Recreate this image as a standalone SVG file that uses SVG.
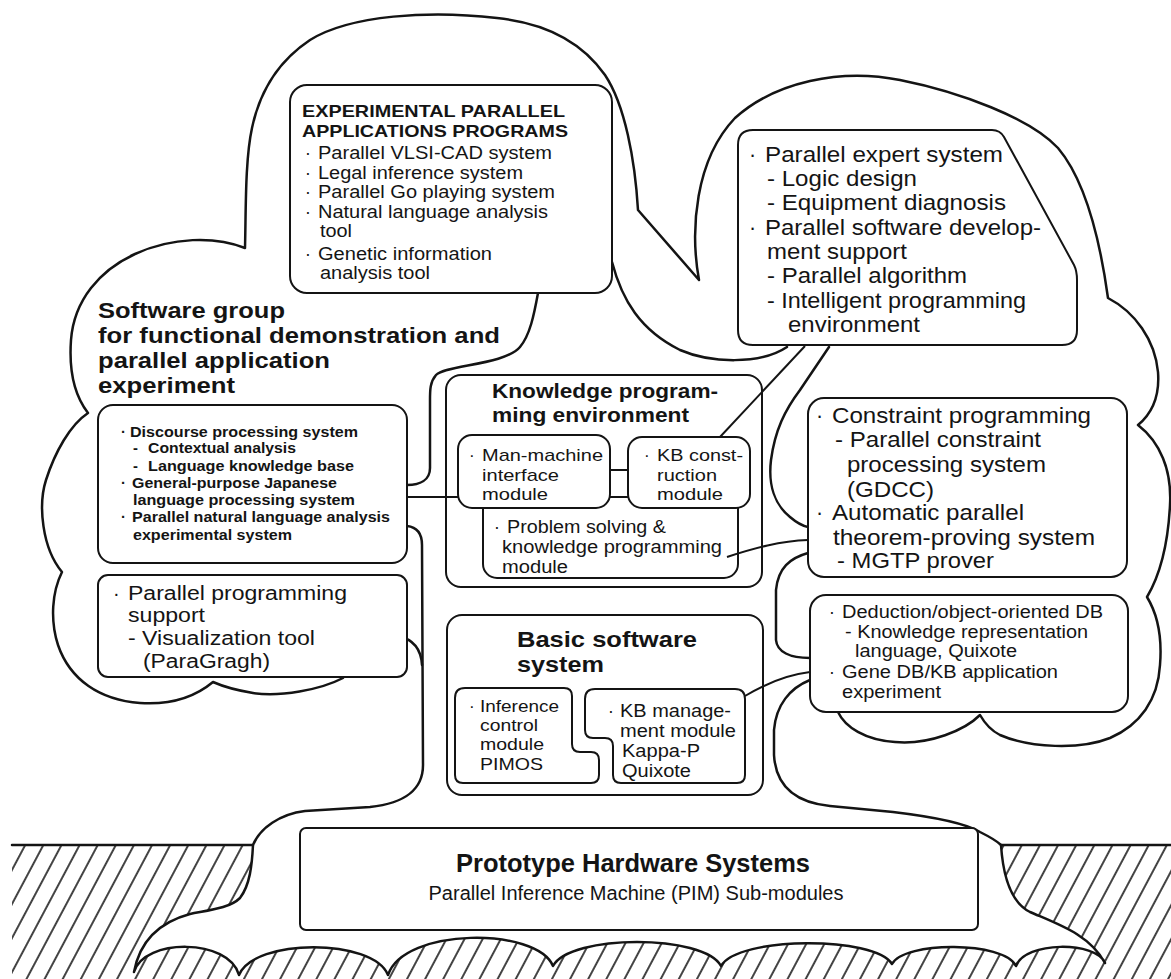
<svg xmlns="http://www.w3.org/2000/svg" width="1171" height="979" viewBox="0 0 1171 979">
<style>
text{font-family:"Liberation Sans",Arial,Helvetica,sans-serif;fill:#141414}
.b{font-weight:bold}
.box{fill:#fff;stroke:#141414;stroke-width:2}
.cl{fill:none;stroke:#141414;stroke-width:2.5;stroke-linejoin:round;stroke-linecap:round}
.cn{fill:none;stroke:#141414;stroke-width:2}
.t{font-size:22px;font-weight:bold}
.eh{font-size:16.5px;font-weight:bold}
.e{font-size:17.5px}
.x{font-size:21.5px}
.d{font-size:17.5px}
.ds{font-size:14.8px;font-weight:bold}
.pp{font-size:20px}
.kh{font-size:21px;font-weight:bold}
.m{font-size:17px}
.bs{font-size:22px;font-weight:bold}
</style>
<defs>
<pattern id="hatch" patternUnits="userSpaceOnUse" width="16" height="20" patternTransform="rotate(28)">
<line x1="3" y1="-5" x2="3" y2="25" stroke="#141414" stroke-width="1.6"/>
</pattern>
</defs>
<rect width="1171" height="979" fill="#fff"/>

<g id="ground">
<rect x="12" y="846" width="1159" height="133" fill="url(#hatch)"/>
<path d="M253,843 C252,865 250,885 240,898 C230,908 210,910 190,914 C160,922 140,940 134,972 C144,938 229,938 239,975 C254,938 373,938 388,975 C404,927 537,927 553,966 C570,934 704,934 721,966 C738,936 875,936 892,964 C904,941 1004,941 1016,966 C1025,941 1096,941 1105,963 C1090,935 1060,925 1030,912 C1010,902 1003,875 1001,845 L1001,843 Z" fill="#fff"/>
<line x1="12" y1="845" x2="253" y2="845" class="cl"/>
<line x1="1001" y1="845" x2="1171" y2="845" class="cl"/>
</g>

<g id="cloud">
<path class="cl" d="M343,678 C320,690 280,697 253,693 C235,690 222,686 213,682 C195,697 170,705 140,703 C100,700 70,680 58,645 C50,620 52,592 62,572 C42,548 38,505 46,480 C55,452 70,425 88,413 C74,395 69,368 71,340 C74,300 100,270 135,254 C172,237 215,236 245,248 C246,210 245,160 252,128 C260,90 280,60 310,40 C350,15 430,10 497,18 C545,23 582,42 605,75 C625,105 635,160 638,210 L699,280 C690,230 695,160 735,118 C775,82 840,68 900,80 C960,92 1030,118 1058,148 C1085,180 1100,240 1108,298 C1135,312 1155,340 1158,372 C1160,398 1150,415 1138,425 C1160,442 1172,470 1170,505 C1168,545 1160,575 1147,597 C1158,615 1162,640 1160,665 C1158,700 1140,725 1110,738 C1080,750 1030,748 1000,735 C990,730 984,722 980,715 C965,730 930,745 895,742 C865,740 845,727 838,712"/>
<path class="cl" d="M538,293 C534,315 530,335 520,347 C505,365 445,365 436,375 C430,382 430,390 430,400 L430,468 C430,480 420,485 407,485"/>
<path class="cl" d="M612,262 C622,300 640,330 680,350 C710,363 760,365 787,347"/>
<path class="cl" d="M829,347 L800,390 C785,410 775,430 771,460 C768,485 775,505 790,517 C797,523 803,526 808,527"/>
<path class="cl" d="M808,553 C790,558 778,568 776,590 L776,640 C777,652 790,658 810,658"/>
<path class="cl" d="M398,636 C412,639 421,647 422,665"/>
<path class="cl" d="M407,526 C416,527 422,532 422,545 L423,765 C423,790 405,803 370,807 L305,811 C280,814 260,828 253,845 C252,865 250,885 240,898 C230,908 210,910 190,914 C160,922 140,940 134,972 C144,938 229,938 239,975 C254,938 373,938 388,975 C404,927 537,927 553,966 C570,934 704,934 721,966 C738,936 875,936 892,964 C904,941 1004,941 1016,966 C1025,941 1096,941 1105,963 C1090,935 1060,925 1030,912 C1010,902 1003,875 1001,845 C998,842 992,838 980,832 C965,823 935,817 893,812 L830,806 C800,803 776,790 774,755 L774,730 C776,705 790,688 810,680"/>
</g>

<g id="title">
<text class="t" x="98" y="318" textLength="187" lengthAdjust="spacingAndGlyphs">Software group</text>
<text class="t" x="98" y="343" textLength="402" lengthAdjust="spacingAndGlyphs">for functional demonstration and</text>
<text class="t" x="98" y="368" textLength="232" lengthAdjust="spacingAndGlyphs">parallel application</text>
<text class="t" x="98" y="393" textLength="137" lengthAdjust="spacingAndGlyphs">experiment</text>
</g>

<g id="experimental">
<rect class="box" x="290" y="85" width="322" height="208" rx="17"/>
<text class="eh" x="302" y="117" textLength="263" lengthAdjust="spacingAndGlyphs">EXPERIMENTAL PARALLEL</text>
<text class="eh" x="302" y="137" textLength="266" lengthAdjust="spacingAndGlyphs">APPLICATIONS PROGRAMS</text>
<text class="e" x="305" y="159">·</text><text class="e" x="318" y="159" textLength="234" lengthAdjust="spacingAndGlyphs">Parallel VLSI-CAD system</text>
<text class="e" x="305" y="179">·</text><text class="e" x="318" y="179" textLength="205" lengthAdjust="spacingAndGlyphs">Legal inference system</text>
<text class="e" x="305" y="198">·</text><text class="e" x="318" y="198" textLength="237" lengthAdjust="spacingAndGlyphs">Parallel Go playing system</text>
<text class="e" x="305" y="218">·</text><text class="e" x="318" y="218" textLength="230" lengthAdjust="spacingAndGlyphs">Natural language analysis</text>
<text class="e" x="320" y="237" textLength="32" lengthAdjust="spacingAndGlyphs">tool</text>
<text class="e" x="305" y="260">·</text><text class="e" x="318" y="260" textLength="174" lengthAdjust="spacingAndGlyphs">Genetic information</text>
<text class="e" x="320" y="279" textLength="110" lengthAdjust="spacingAndGlyphs">analysis tool</text>
</g>

<g id="expert">
<path class="box" d="M753,130 L992,130 Q1000,130 1004,137 L1074,265 Q1077,271 1077,280 L1077,330 Q1077,345 1062,345 L753,345 Q738,345 738,330 L738,145 Q738,130 753,130 Z"/>
<text class="x" x="749" y="162">·</text><text class="x" x="765" y="162" textLength="238" lengthAdjust="spacingAndGlyphs">Parallel expert system</text>
<text class="x" x="767" y="186" textLength="150" lengthAdjust="spacingAndGlyphs">- Logic design</text>
<text class="x" x="767" y="210" textLength="239" lengthAdjust="spacingAndGlyphs">- Equipment diagnosis</text>
<text class="x" x="749" y="235">·</text><text class="x" x="765" y="235" textLength="276" lengthAdjust="spacingAndGlyphs">Parallel software develop-</text>
<text class="x" x="767" y="259" textLength="140" lengthAdjust="spacingAndGlyphs">ment support</text>
<text class="x" x="767" y="283" textLength="200" lengthAdjust="spacingAndGlyphs">- Parallel algorithm</text>
<text class="x" x="767" y="308" textLength="259" lengthAdjust="spacingAndGlyphs">- Intelligent programming</text>
<text class="x" x="788" y="332" textLength="132" lengthAdjust="spacingAndGlyphs">environment</text>
</g>

<g id="discourse">
<rect class="box" x="98" y="405" width="309" height="158" rx="15"/>
<text class="ds" x="121" y="437">·</text><text class="ds" x="130" y="437" textLength="228" lengthAdjust="spacingAndGlyphs">Discourse processing system</text>
<text class="ds" x="133" y="453">-</text><text class="ds" x="148" y="453" textLength="148" lengthAdjust="spacingAndGlyphs">Contextual analysis</text>
<text class="ds" x="133" y="471">-</text><text class="ds" x="148" y="471" textLength="206" lengthAdjust="spacingAndGlyphs">Language knowledge base</text>
<text class="ds" x="121" y="488">·</text><text class="ds" x="132" y="488" textLength="205" lengthAdjust="spacingAndGlyphs">General-purpose Japanese</text>
<text class="ds" x="133" y="505" textLength="222" lengthAdjust="spacingAndGlyphs">language processing system</text>
<text class="ds" x="121" y="522">·</text><text class="ds" x="132" y="522" textLength="258" lengthAdjust="spacingAndGlyphs">Parallel natural language analysis</text>
<text class="ds" x="133" y="540" textLength="159" lengthAdjust="spacingAndGlyphs">experimental system</text>
</g>

<g id="paraprog">
<rect class="box" x="98" y="575" width="309" height="102" rx="10"/>
<text class="pp" x="113" y="600">·</text><text class="pp" x="128" y="600" textLength="219" lengthAdjust="spacingAndGlyphs">Parallel programming</text>
<text class="pp" x="128" y="622" textLength="77" lengthAdjust="spacingAndGlyphs">support</text>
<text class="pp" x="128" y="645" textLength="187" lengthAdjust="spacingAndGlyphs">- Visualization tool</text>
<text class="pp" x="143" y="668" textLength="127" lengthAdjust="spacingAndGlyphs">(ParaGragh)</text>
</g>

<g id="knowledge">
<rect class="box" x="446" y="375" width="316" height="212" rx="15"/>
<text class="kh" x="492" y="398" textLength="226" lengthAdjust="spacingAndGlyphs">Knowledge program-</text>
<text class="kh" x="492" y="422" textLength="197" lengthAdjust="spacingAndGlyphs">ming environment</text>
</g>

<g id="problem">
<rect class="box" x="483" y="470" width="255" height="108" rx="14"/>
<text class="e" x="494" y="533">·</text><text class="e" x="507" y="533" textLength="159" lengthAdjust="spacingAndGlyphs">Problem solving &amp;</text>
<text class="e" x="502" y="553" textLength="220" lengthAdjust="spacingAndGlyphs">knowledge programming</text>
<text class="e" x="502" y="573" textLength="66" lengthAdjust="spacingAndGlyphs">module</text>
</g>

<g id="manmachine">
<rect class="box" x="458" y="435" width="152" height="73" rx="14"/>
<text class="m" x="469" y="461">·</text><text class="m" x="482" y="461" textLength="121" lengthAdjust="spacingAndGlyphs">Man-machine</text>
<text class="m" x="482" y="481" textLength="77" lengthAdjust="spacingAndGlyphs">interface</text>
<text class="m" x="482" y="500" textLength="66" lengthAdjust="spacingAndGlyphs">module</text>
</g>

<g id="kbconst">
<rect class="box" x="628" y="437" width="122" height="71" rx="14"/>
<text class="m" x="644" y="461">·</text><text class="m" x="657" y="461" textLength="86" lengthAdjust="spacingAndGlyphs">KB const-</text>
<text class="m" x="657" y="481" textLength="60" lengthAdjust="spacingAndGlyphs">ruction</text>
<text class="m" x="657" y="500" textLength="66" lengthAdjust="spacingAndGlyphs">module</text>
</g>

<g id="constraint">
<rect class="box" x="808" y="398" width="319" height="179" rx="16"/>
<text class="x" x="816" y="423">·</text><text class="x" x="832" y="423" textLength="259" lengthAdjust="spacingAndGlyphs">Constraint programming</text>
<text class="x" x="835" y="447" textLength="206" lengthAdjust="spacingAndGlyphs">- Parallel constraint</text>
<text class="x" x="847" y="472" textLength="199" lengthAdjust="spacingAndGlyphs">processing system</text>
<text class="x" x="847" y="497" textLength="87" lengthAdjust="spacingAndGlyphs">(GDCC)</text>
<text class="x" x="816" y="520">·</text><text class="x" x="832" y="520" textLength="192" lengthAdjust="spacingAndGlyphs">Automatic parallel</text>
<text class="x" x="833" y="545" textLength="262" lengthAdjust="spacingAndGlyphs">theorem-proving system</text>
<text class="x" x="837" y="568" textLength="157" lengthAdjust="spacingAndGlyphs">- MGTP prover</text>
</g>

<g id="deduction">
<rect class="box" x="810" y="595" width="318" height="117" rx="16"/>
<text class="d" x="829" y="618">·</text><text class="d" x="842" y="618" textLength="261" lengthAdjust="spacingAndGlyphs">Deduction/object-oriented DB</text>
<text class="d" x="845" y="638" textLength="243" lengthAdjust="spacingAndGlyphs">- Knowledge representation</text>
<text class="d" x="855" y="657" textLength="162" lengthAdjust="spacingAndGlyphs">language, Quixote</text>
<text class="d" x="829" y="678">·</text><text class="d" x="842" y="678" textLength="216" lengthAdjust="spacingAndGlyphs">Gene DB/KB application</text>
<text class="d" x="842" y="698" textLength="99" lengthAdjust="spacingAndGlyphs">experiment</text>
</g>

<g id="basic">
<rect class="box" x="447" y="615" width="316" height="180" rx="15"/>
<text class="bs" x="517" y="647" textLength="180" lengthAdjust="spacingAndGlyphs">Basic software</text>
<text class="bs" x="517" y="672" textLength="87" lengthAdjust="spacingAndGlyphs">system</text>
</g>

<g id="inference">
<path class="box" d="M465,688 L564,688 Q572,688 572,696 L572,744 Q572,752 580,752 L591,752 Q599,752 599,760 L599,775 Q599,783 591,783 L463,783 Q455,783 455,775 L455,698 Q455,688 465,688 Z"/>
<text class="m" x="469" y="712">·</text><text class="m" x="480" y="712" textLength="79" lengthAdjust="spacingAndGlyphs">Inference</text>
<text class="m" x="480" y="731" textLength="58" lengthAdjust="spacingAndGlyphs">control</text>
<text class="m" x="480" y="750" textLength="64" lengthAdjust="spacingAndGlyphs">module</text>
<text class="m" x="480" y="770" textLength="63" lengthAdjust="spacingAndGlyphs">PIMOS</text>
</g>

<g id="kbmanage">
<path class="box" d="M595,689 L735,689 Q745,689 745,699 L745,775 Q745,783 737,783 L621,783 Q613,783 613,775 L613,746 Q613,738 605,738 L593,738 Q585,738 585,730 L585,699 Q585,689 595,689 Z"/>
<text class="e" x="608" y="717">·</text><text class="e" x="620" y="717" textLength="111" lengthAdjust="spacingAndGlyphs">KB manage-</text>
<text class="e" x="620" y="737" textLength="116" lengthAdjust="spacingAndGlyphs">ment module</text>
<text class="e" x="622" y="757" textLength="78" lengthAdjust="spacingAndGlyphs">Kappa-P</text>
<text class="e" x="622" y="777" textLength="69" lengthAdjust="spacingAndGlyphs">Quixote</text>
</g>

<g id="hardware">
<rect class="box" x="300" y="828" width="678" height="102" rx="6"/>
<text class="b" style="font-size:25.5px" x="633" y="872" text-anchor="middle" textLength="354" lengthAdjust="spacingAndGlyphs">Prototype Hardware Systems</text>
<text style="font-size:20px" x="636" y="900" text-anchor="middle" textLength="415" lengthAdjust="spacingAndGlyphs">Parallel Inference Machine (PIM) Sub-modules</text>
</g>

<g id="connectors">
<path class="cn" d="M407,497 L458,497"/>
<path class="cn" d="M610,497 L628,497"/>
<path class="cn" d="M720,437 L805,346"/>
<path class="cn" d="M727,557 C755,548 780,541 808,540"/>
<path class="cn" d="M745,696 C765,684 785,675 810,672"/>
</g>
</svg>
